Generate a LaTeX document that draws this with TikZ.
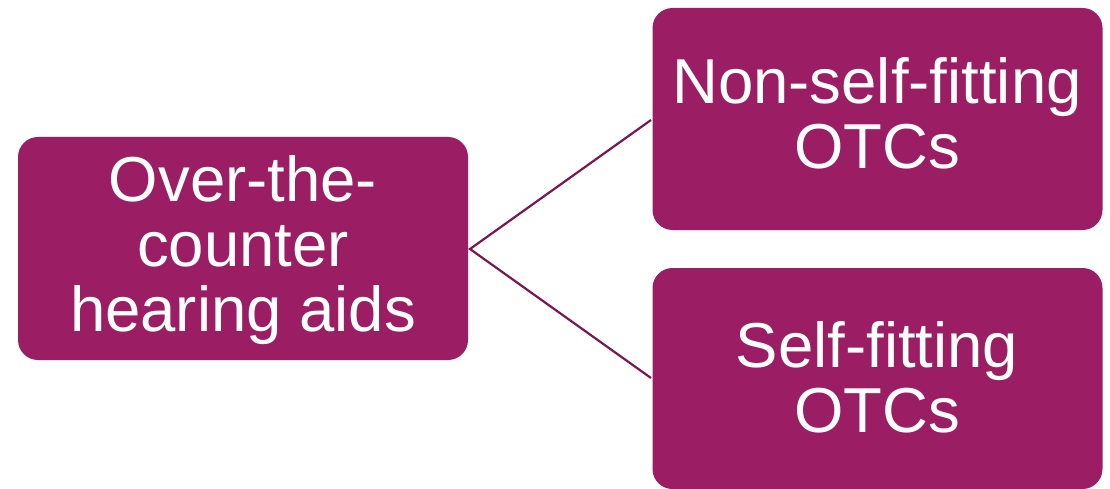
\documentclass[tikz,border=0pt]{standalone}
\usepackage{fontspec}
\setmainfont{Liberation Sans}
\definecolor{boxfill}{HTML}{9B1D63}
\definecolor{linecol}{HTML}{7D1550}
\begin{document}
\begin{tikzpicture}[x=1pt,y=-1pt,
  box/.style={fill=boxfill,draw=none,rounded corners=20pt,minimum width=450pt,minimum height=222pt,inner sep=0pt},
  label/.style={text=white,align=center,font=\fontsize{63.5}{65}\selectfont,inner sep=0pt},
  conn/.style={draw=linecol,line width=2.2pt}]
\useasboundingbox (0,0) rectangle (1110,489);
\node[box,minimum height=223pt] (root) at (243,248.5) {};
\node[box] (a) at (877.5,119) {};
\node[box,minimum height=221pt] (b) at (877.5,378.5) {};
\node[label] (roott) at (243,250) {Over-the-\\counter\\hearing aids};
\node[label] (at) at (877,113) {Non-self-fitting\\OTCs};
\node[label] (bt) at (877,377) {Self-fitting\\OTCs};
\coordinate (r) at (470,249);
\coordinate (ta) at (651,120);
\coordinate (tb) at (651,378);
\draw[conn] (ta) -- (r) -- (tb);
\end{tikzpicture}
\end{document}
